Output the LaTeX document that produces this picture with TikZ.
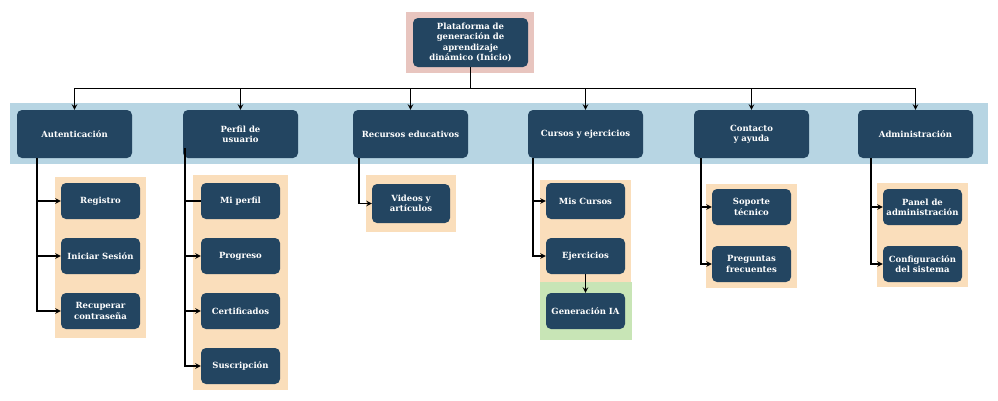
\documentclass[tikz,border=0pt]{standalone}
\usepackage{fontspec}
\setmainfont{DejaVu Serif}
\usepackage{xcolor}
\usetikzlibrary{arrows,positioning}
\definecolor{boxblue}{HTML}{234561}
\definecolor{bandblue}{HTML}{B7D5E3}
\definecolor{rootpink}{HTML}{E8C5BF}
\definecolor{subtan}{HTML}{FADEBB}
\definecolor{subgreen}{HTML}{C8E5B6}

\begin{document}
\begin{tikzpicture}[x = 1pt, y = -1pt, >=stealth,
    box/.style = {fill = boxblue, rounded corners = 5pt, text = white, align = center,
                  inner sep = 0pt, font = \bfseries\fontsize{8.5}{10.3}\selectfont},
    topbox/.style = {box, minimum width = 115pt, minimum height = 48pt},
    subbox/.style = {box, minimum width = 79pt, minimum height = 36pt},
    link/.style = {->, line width = 1.4pt}]
    \useasboundingbox (0,0) rectangle (998,400);
        % Backgrounds
    \fill[rootpink] (406,12) rectangle (534,73);
    \fill[bandblue] (10,103) rectangle (988,164);
    \fill[subtan] (55,177) rectangle (146,338);
    \fill[subtan] (193,175) rectangle (288,390);
    \fill[subtan] (366,175) rectangle (456,232);
    \fill[subtan] (540,180) rectangle (631,282);
    \fill[subgreen] (540,282) rectangle (632,340);
    \fill[subtan] (706,184) rectangle (797,288);
    \fill[subtan] (877,183) rectangle (968,287);
        % Root and sections
    \node[box, minimum width = 115pt, minimum height = 49pt] (root) at (470.5,42.5) {Plataforma de\\generación de\\aprendizaje\\dinámico (Inicio)};
    \node[topbox] (aut) at (74.5,134) {Autenticación};
    \node[topbox] (per) at (240.5,134) {Perfil de\\usuario};
    \node[topbox] (rec) at (410.5,134) {Recursos educativos};
    \node[topbox] (cur) at (585.5,134) {Cursos y ejercicios};
    \node[topbox] (con) at (751.5,134) {Contacto\\y ayuda};
    \node[topbox] (adm) at (915.5,134) {Administración};
    \foreach \s in {aut,per,rec,cur,con,adm}
        \draw[link] (root.south) -- ++(0,21) -| (\s.north);
        % Pages
    \node[subbox] (reg) at (100.5,201) {Registro};
    \node[subbox] (ini) at (100.5,256) {Iniciar Sesión};
    \node[subbox] (rcp) at (100.5,311) {Recuperar\\contraseña};
    \node[subbox] (mip) at (240.5,201) {Mi perfil};
    \node[subbox] (pro) at (240.5,256) {Progreso};
    \node[subbox] (cer) at (240.5,311) {Certificados};
    \node[subbox] (sus) at (240.5,366) {Suscripción};
    \node[subbox, minimum width = 78pt, minimum height = 39pt] (vid) at (411,203.5) {Videos y\\artículos};
    \node[subbox] (mis) at (585.5,201) {Mis Cursos};
    \node[subbox] (eje) at (585.5,256) {Ejercicios};
    \node[subbox] (gen) at (585.5,311) {Generación IA};
    \node[subbox] (sop) at (751.5,207) {Soporte\\técnico};
    \node[subbox] (pre) at (751.5,264) {Preguntas\\frecuentes};
    \node[subbox] (pan) at (922.5,207) {Panel de\\administración};
    \node[subbox] (cfg) at (922.5,264) {Configuración\\del sistema};
        % Links to pages
    \foreach \p in {reg,ini,rcp}
        \draw[link] (aut.south west) ++(20,0) |- (\p.west);
    \draw[line width = 1.4pt] (per.south west) ++(2,-10) |- (mip.west);
    \foreach \p in {pro,cer,sus}
        \draw[link] (per.south west) ++(2,-10) |- (\p.west);
    \draw[link] (rec.south west) ++(6,0) |- (vid.west);
    \foreach \p in {mis,eje}
        \draw[link] (cur.south west) ++(5,0) |- (\p.west);
    \draw[link] (eje) -- (gen);
    \foreach \p in {sop,pre}
        \draw[link] (con.south west) ++(7,0) |- (\p.west);
    \foreach \p in {pan,cfg}
        \draw[link] (adm.south west) ++(13,0) |- (\p.west);
\end{tikzpicture}
\end{document}
